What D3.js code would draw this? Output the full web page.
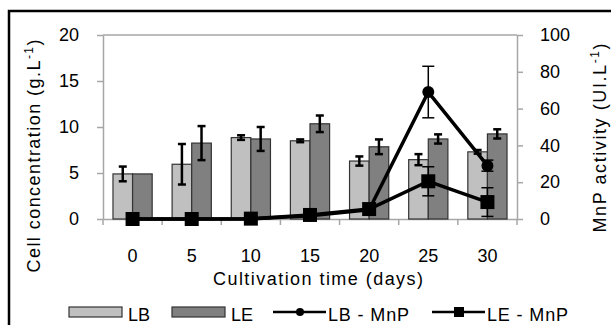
<!DOCTYPE html>
<html>
<head>
<meta charset="utf-8">
<script src="https://cdn.jsdelivr.net/npm/d3@7"></script>
<style>
  body { margin: 0; background: #fff; }
  text { font-family: "Liberation Sans", Arial, sans-serif; fill: #000; }
</style>
</head>
<body>
<div id="root"></div>
<script>
// data
var days = ["0", "5", "10", "15", "20", "25", "30"];
var lbCells = [4.9, 5.95, 8.85, 8.5, 6.3, 6.45, 7.3];
var lbCellsErr = [0.8, 2.2, 0.25, 0.15, 0.5, 0.6, 0.2];
var leCells = [4.9, 8.25, 8.7, 10.35, 7.85, 8.7, 9.25];
var leCellsErr = [0, 1.85, 1.3, 0.9, 0.8, 0.5, 0.5];
var lbMnp = [0, 0, 0, 1.8, 5, 69, 29];
var lbMnpErr = [0, 0, 0, 0, 0, 14, 3];
var leMnp = [0, 0, 0.2, 2.2, 5.4, 20.5, 9.2];
var leMnpErr = [0, 0, 0, 0, 0, 7.9, 7.8];
var leftTicks = [0, 5, 10, 15, 20];
var rightTicks = [0, 20, 40, 60, 80, 100];

var width = 611, height = 325;
var plot = { left: 103, right: 517, top: 35, bottom: 219 };

var svg = d3.select("#root")
  .append("svg")
  .attr("width", width)
  .attr("height", height);

svg.append("rect")
  .attr("width", width).attr("height", height)
  .attr("fill", "#fff");

// outer chart frame (right/bottom edges fall off the picture)
svg.append("rect")
  .attr("x", 9).attr("y", 11)
  .attr("width", 700).attr("height", 400)
  .attr("fill", "none")
  .attr("stroke", "#000")
  .attr("stroke-width", 2.5);

var x = d3.scaleBand()
  .domain(days)
  .range([plot.left, plot.right]);

var barW = 19.6;
var xSeries = d3.scaleOrdinal()
  .domain(["LB", "LE"])
  .range([-barW, 0]);

var yL = d3.scaleLinear().domain([0, 20]).range([plot.bottom, plot.top]);
var yR = d3.scaleLinear().domain([0, 100]).range([plot.bottom, plot.top]);

var axisColor = "#a6a6a6";

// top gridline
svg.append("line")
  .attr("x1", plot.left).attr("x2", plot.right)
  .attr("y1", yL(20)).attr("y2", yL(20))
  .attr("stroke", axisColor).attr("stroke-width", 1.5);

// left axis
var gl = svg.append("g")
  .attr("transform", "translate(" + plot.left + ",0)")
  .call(d3.axisLeft(yL).tickValues(leftTicks).tickSize(6).tickSizeOuter(0).tickPadding(18));

// right axis
var gr = svg.append("g")
  .attr("transform", "translate(" + plot.right + ",0)")
  .call(d3.axisRight(yR).tickValues(rightTicks).tickSize(6).tickSizeOuter(0).tickPadding(17));

// bottom axis, labels at centres, ticks between categories
var gb = svg.append("g")
  .attr("transform", "translate(0," + plot.bottom + ")")
  .call(d3.axisBottom(x).tickSize(0).tickSizeOuter(0).tickPadding(30));

gb.selectAll(".sep")
  .data(days.concat(["end"]))
  .enter()
  .append("line")
  .attr("class", "sep")
  .attr("x1", function (d, i) { return plot.left + i * x.step(); })
  .attr("x2", function (d, i) { return plot.left + i * x.step(); })
  .attr("y1", 0).attr("y2", 6)
  .attr("stroke", axisColor).attr("stroke-width", 1.5);

[gl, gr, gb].forEach(function (g) {
  g.selectAll(".domain").attr("stroke", axisColor).attr("stroke-width", 1.5);
  g.selectAll(".tick line").attr("stroke", axisColor).attr("stroke-width", 1.5);
  g.selectAll("text").attr("font-size", 18).attr("fill", "#000")
    .attr("font-family", "Liberation Sans, Arial, sans-serif");
});

// bars
var series = [
  { key: "LB", values: lbCells, err: lbCellsErr, fill: "#c0c0c0" },
  { key: "LE", values: leCells, err: leCellsErr, fill: "#808080" }
];

series.forEach(function (s) {
  var cx = function (i) { return x(days[i]) + x.bandwidth() / 2 + xSeries(s.key); };
  svg.append("g").selectAll("rect")
    .data(s.values)
    .enter()
    .append("rect")
    .attr("x", function (d, i) { return cx(i); })
    .attr("y", function (d) { return yL(d); })
    .attr("width", barW)
    .attr("height", function (d) { return yL(0) - yL(d); })
    .attr("fill", s.fill)
    .attr("stroke", "#333")
    .attr("stroke-width", 1.2);

  // error bars
  var eg = svg.append("g").attr("stroke", "#000").attr("stroke-width", 2.5);
  s.values.forEach(function (v, i) {
    var e = s.err[i];
    if (!e) return;
    var mx = cx(i) + barW / 2;
    eg.append("line").attr("x1", mx).attr("x2", mx).attr("y1", yL(v + e)).attr("y2", yL(v - e));
    eg.append("line").attr("x1", mx - 4).attr("x2", mx + 4).attr("y1", yL(v + e)).attr("y2", yL(v + e));
    eg.append("line").attr("x1", mx - 4).attr("x2", mx + 4).attr("y1", yL(v - e)).attr("y2", yL(v - e));
  });
});

// MnP activity lines
var cxMid = function (i) { return x(days[i]) + x.bandwidth() / 2; };
var lines = [
  { key: "LB - MnP", values: lbMnp, err: lbMnpErr, marker: "circle" },
  { key: "LE - MnP", values: leMnp, err: leMnpErr, marker: "square" }
];

lines.forEach(function (s) {
  var eg = svg.append("g").attr("stroke", "#000").attr("stroke-width", 1.5);
  s.values.forEach(function (v, i) {
    var e = s.err[i];
    if (!e) return;
    var mx = cxMid(i);
    eg.append("line").attr("x1", mx).attr("x2", mx).attr("y1", yR(v + e)).attr("y2", yR(Math.max(0, v - e)));
    eg.append("line").attr("x1", mx - 6).attr("x2", mx + 6).attr("y1", yR(v + e)).attr("y2", yR(v + e));
    eg.append("line").attr("x1", mx - 6).attr("x2", mx + 6).attr("y1", yR(v - e)).attr("y2", yR(v - e));
  });
});

lines.forEach(function (s) {
  svg.append("path")
    .datum(s.values)
    .attr("fill", "none")
    .attr("stroke", "#000")
    .attr("stroke-width", 3.5)
    .attr("stroke-linejoin", "round")
    .attr("d", d3.line()
      .x(function (d, i) { return cxMid(i); })
      .y(function (d) { return yR(d); }));
});

lines.forEach(function (s) {
  var g = svg.append("g").attr("fill", "#000");
  if (s.marker === "circle") {
    g.selectAll("circle").data(s.values).enter().append("circle")
      .attr("cx", function (d, i) { return cxMid(i); })
      .attr("cy", function (d) { return yR(d); })
      .attr("r", 6);
  } else {
    g.selectAll("rect").data(s.values).enter().append("rect")
      .attr("x", function (d, i) { return cxMid(i) - 7; })
      .attr("y", function (d) { return yR(d) - 7; })
      .attr("width", 14).attr("height", 14);
  }
});

// axis titles (stretched to the widths seen in the picture)
var leftTitle = svg.append("text")
  .attr("transform", "translate(40,156) rotate(-90)")
  .attr("text-anchor", "middle")
  .attr("font-size", 18)
  .attr("textLength", 233)
  .attr("lengthAdjust", "spacing");
leftTitle.append("tspan").text("Cell concentration (g.L");
leftTitle.append("tspan").attr("font-size", 12).attr("dy", -7).text("-1");
leftTitle.append("tspan").attr("dy", 7).text(")");

var rightTitle = svg.append("text")
  .attr("transform", "translate(606,138) rotate(-90)")
  .attr("text-anchor", "middle")
  .attr("font-size", 18)
  .attr("textLength", 189)
  .attr("lengthAdjust", "spacing");
rightTitle.append("tspan").text("MnP activity (UI.L");
rightTitle.append("tspan").attr("font-size", 12).attr("dy", -7).text("-1");
rightTitle.append("tspan").attr("dy", 7).text(")");

svg.append("text")
  .attr("x", 318).attr("y", 285)
  .attr("text-anchor", "middle")
  .attr("font-size", 18)
  .attr("textLength", 210)
  .attr("lengthAdjust", "spacing")
  .text("Cultivation time (days)");

// legend
var legY = 312;
var legend = svg.append("g");
series.forEach(function (s, i) {
  var lx = 69 + i * 103;
  legend.append("rect")
    .attr("x", lx).attr("y", legY - 5)
    .attr("width", 53).attr("height", 10)
    .attr("fill", s.fill).attr("stroke", "#333").attr("stroke-width", 1.2);
  legend.append("text")
    .attr("x", lx + 59).attr("y", legY + 9)
    .attr("font-size", 18)
    .text(s.key);
});
lines.forEach(function (s, i) {
  var lx = 273 + i * 159;
  legend.append("line")
    .attr("x1", lx).attr("x2", lx + 53)
    .attr("y1", legY).attr("y2", legY)
    .attr("stroke", "#000").attr("stroke-width", 2.5);
  if (s.marker === "circle") {
    legend.append("circle").attr("cx", lx + 27).attr("cy", legY).attr("r", 4);
  } else {
    legend.append("rect").attr("x", lx + 22).attr("y", legY - 5).attr("width", 10).attr("height", 10);
  }
  legend.append("text")
    .attr("x", lx + 55).attr("y", legY + 9)
    .attr("font-size", 18)
    .attr("textLength", 81)
    .attr("lengthAdjust", "spacing")
    .text(s.key);
});
</script>
</body>
</html>
